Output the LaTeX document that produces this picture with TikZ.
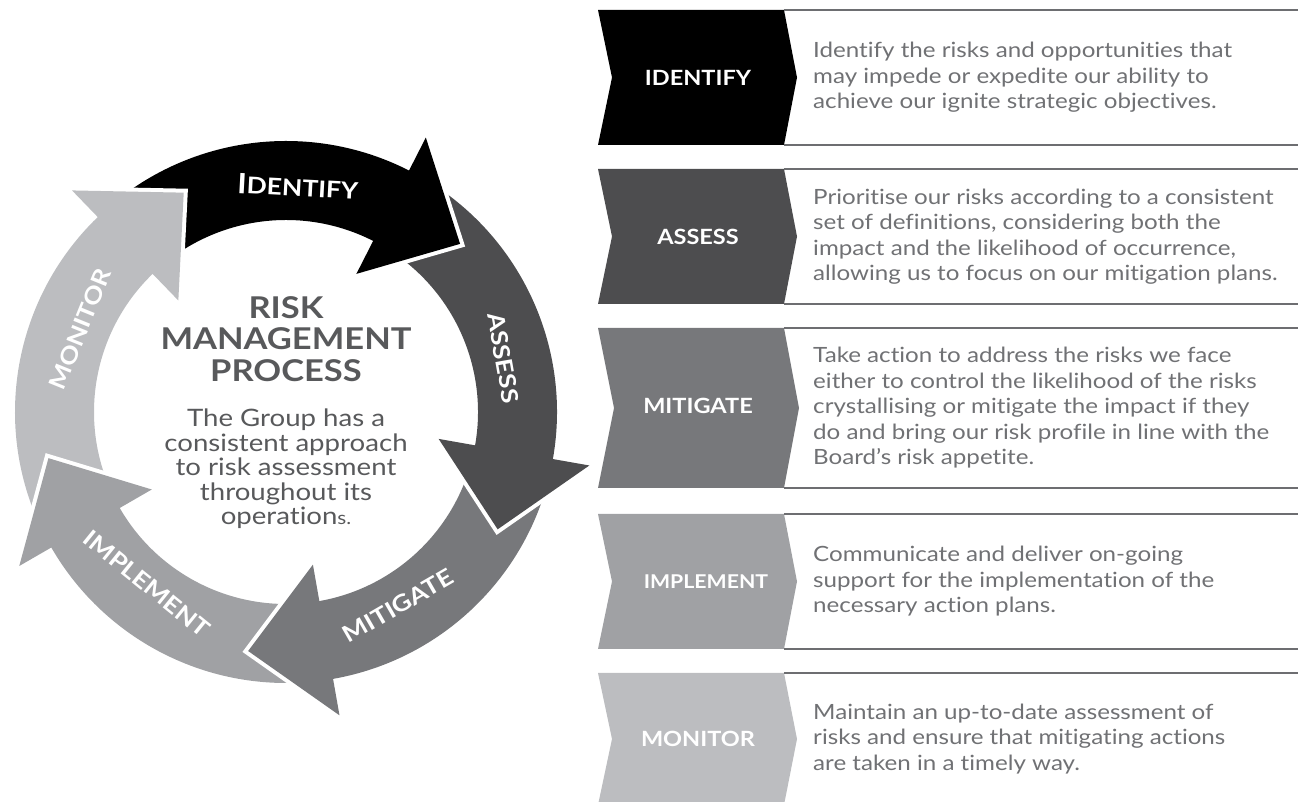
\documentclass[tikz,border=0pt]{standalone}
\usepackage{fontspec}
\setmainfont{Lato}[Ligatures=NoCommon]
\newfontfamily\widefont{Lato}[FakeStretch=1.15, Ligatures=NoCommon]
\newfontfamily\tabfont{Lato}[FakeStretch=1.12, Ligatures=NoCommon]
\usetikzlibrary{positioning}
\definecolor{identc}{HTML}{000000}
\definecolor{assessc}{HTML}{4D4D4F}
\definecolor{mitigc}{HTML}{77787B}
\definecolor{implc}{HTML}{A0A1A4}
\definecolor{monic}{HTML}{BCBDC0}
\definecolor{rulec}{HTML}{6D6E71}
\definecolor{txtc}{HTML}{58595B}
\definecolor{descc}{HTML}{707174}
\tikzset{
  ringlabel/.style={text=white, inner sep=0pt, font=\widefont\bfseries\fontsize{23}{23}\selectfont},
  tablabel/.style={text=white, inner sep=0pt, font=\tabfont\bfseries\fontsize{21}{21}\selectfont},
  desc/.style={anchor=west, align=left, text=descc, inner sep=0pt, font=\widefont\fontsize{21}{25.5}\selectfont},
  rowline/.style={draw=rulec, line width=1.5pt},
  headgap/.style={draw=white, line width=8pt},
}

\begin{document}
\begin{tikzpicture}[x=1pt,y=1pt]
  \useasboundingbox (0,0) rectangle (1298,802);

  \begin{scope}[shift={(286,390)}]
    \fill[identc] (131:271) arc[start angle=131, end angle=62, radius=271] -- (62:192) arc[start angle=62, end angle=131, radius=192] -- cycle;
    \fill[assessc] (60:271) arc[start angle=60, end angle=-11, radius=271] -- (-11:192) arc[start angle=-11, end angle=60, radius=192] -- cycle;
    \fill[mitigc] (-13:271) arc[start angle=-13, end angle=-81, radius=271] -- (-81:192) arc[start angle=-81, end angle=-13, radius=192] -- cycle;
    \fill[implc] (-83:271) arc[start angle=-83, end angle=-151, radius=271] -- (-151:192) arc[start angle=-151, end angle=-83, radius=192] -- cycle;
    \fill[monic] (207:271) arc[start angle=207, end angle=133, radius=271] -- (133:192) arc[start angle=133, end angle=207, radius=192] -- cycle;

    \draw[headgap] (63:308) -- (44:242) -- (63:155);
    \fill[identc] (63:308) -- (44:242) -- (63:155) -- cycle;
    \draw[headgap] (-10:308) -- (-29:242) -- (-10:155);
    \fill[assessc] (-10:308) -- (-29:242) -- (-10:155) -- cycle;
    \draw[headgap] (-80:308) -- (-99:242) -- (-80:155);
    \fill[mitigc] (-80:308) -- (-99:242) -- (-80:155) -- cycle;
    \draw[headgap] (-150:308) -- (-169:242) -- (-150:155);
    \fill[implc] (-150:308) -- (-169:242) -- (-150:155) -- cycle;
    \draw[headgap] (134:308) -- (115:242) -- (134:155);
    \fill[monic] (134:308) -- (115:242) -- (134:155) -- cycle;

    \node[ringlabel, rotate=-3] (ridentify) at (87:226) {{\fontsize{28}{28}\selectfont I}DENTIFY};
    \node[ringlabel, rotate=-80] (rassess) at (14:224) {ASSESS};
    \node[ringlabel, rotate=30] (rmitigate) at (-60:224) {MITIGATE};
    \node[ringlabel, rotate=-39] (rimplement) at (231:221) {IMPLEMENT};
    \node[ringlabel, rotate=68] (rmonitor) at (158:222) {MONITOR};

    \node[align=center, text=txtc, inner sep=0pt, font=\widefont\bfseries\fontsize{30}{31.5}\selectfont] (ctitle) at (0,73) {RISK\\MANAGEMENT\\PROCESS};
    \node[align=center, text=txtc, inner sep=0pt, font=\widefont\fontsize{24}{24.5}\selectfont] (cbody) at (0,-57) {The Group has a\\consistent approach\\to risk assessment\\throughout its\\operation{\fontsize{18}{18}\selectfont s.}};
  \end{scope}

  \fill[identc] (598,792) -- (784,792) -- (797,724.5) coordinate (pident) -- (784,657) -- (598,657) -- (612,724.5) -- cycle;
  \node[tablabel] (tidentify) at (698,724.5) {IDENTIFY};
  \draw[rowline] (784,792) -- (1298,792) (784,657) -- (1298,657);
  \node[desc, right=16pt of pident] (didentify) {Identify the risks and opportunities that\\may impede or expedite our ability to\\achieve our ignite strategic objectives.};

  \fill[assessc] (598,633) -- (784,633) -- (797,565.5) coordinate (passess) -- (784,498) -- (598,498) -- (612,565.5) -- cycle;
  \node[tablabel] (tassess) at (698,565.5) {ASSESS};
  \draw[rowline] (784,633) -- (1298,633) (784,498) -- (1298,498);
  \node[desc, right=16pt of passess] (dassess) {Prioritise our risks according to a consistent\\set of definitions, considering both the\\impact and the likelihood of occurrence,\\allowing us to focus on our mitigation plans.};

  \fill[mitigc] (598,474) -- (784,474) -- (799,394) coordinate (pmitigate) -- (784,314) -- (598,314) -- (614,394) -- cycle;
  \node[tablabel] (tmitigate) at (698,396) {MITIGATE};
  \draw[rowline] (784,474) -- (1298,474) (784,314) -- (1298,314);
  \node[desc, right=14pt of pmitigate] (dmitigate) {Take action to address the risks we face\\either to control the likelihood of the risks\\crystallising or mitigate the impact if they\\do and bring our risk profile in line with the\\Board’s risk appetite.};

  \fill[implc] (598,288) -- (784,288) -- (797,220.5) coordinate (pimplement) -- (784,153) -- (598,153) -- (612,220.5) -- cycle;
  \node[tablabel, font=\tabfont\bfseries\fontsize{19}{19}\selectfont] (timplement) at (706,220.5) {IMPLEMENT};
  \draw[rowline] (784,288) -- (1298,288) (784,153) -- (1298,153);
  \node[desc, right=16pt of pimplement] (dimplement) {Communicate and deliver on-going\\support for the implementation of the\\necessary action plans.};

  \fill[monic] (598,129) -- (784,129) -- (797,63) coordinate (pmonitor) -- (784,-3) -- (598,-3) -- (612,63) -- cycle;
  \node[tablabel] (tmonitor) at (698,63) {MONITOR};
  \draw[rowline] (784,129) -- (1298,129);
  \node[desc, right=16pt of pmonitor] (dmonitor) {Maintain an up-to-date assessment of\\risks and ensure that mitigating actions\\are taken in a timely way.};
\end{tikzpicture}
\end{document}
